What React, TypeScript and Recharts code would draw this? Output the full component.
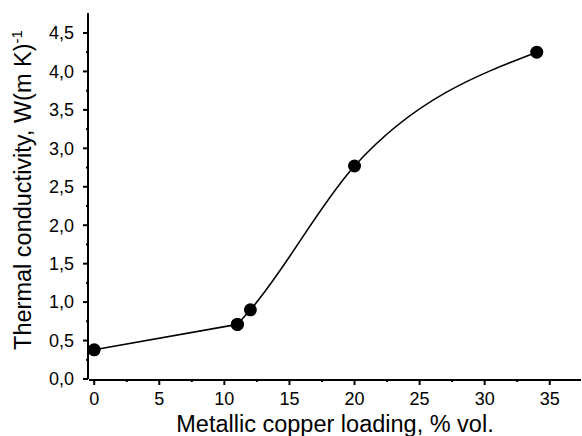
import { Label, Line, LineChart, XAxis, YAxis } from "recharts"

// copper loading (% vol.) vs thermal conductivity W/(m K)
const loading = [0, 11, 12, 20, 34]
const conductivity = [0.38, 0.71, 0.9, 2.77, 4.25]

const xTicks = [0, 5, 10, 15, 20, 25, 30, 35]
const xMinorTicks = [2.5, 7.5, 12.5, 17.5, 22.5, 27.5, 32.5]
const yTicks = [0, 0.5, 1, 1.5, 2, 2.5, 3, 3.5, 4, 4.5]
const yMinorTicks = [0.25, 0.75, 1.25, 1.75, 2.25, 2.75, 3.25, 3.75, 4.25]

// the first stretch in the original is a straight segment, the rest a smooth curve
const data = loading.map((x, i) => ({
    x,
    lo: i <= 1 ? conductivity[i] : undefined,
    hi: i >= 1 ? conductivity[i] : undefined,
}))

const FONT = "'Liberation Sans', Arial, sans-serif"
const INK = "#000"
const X_DOMAIN: [number, number] = [-0.4, 37.4]
const Y_DOMAIN: [number, number] = [0, 4.76]

const fmtComma = (v: number) => v.toFixed(1).replace(".", ",")

function YTitle(props: any) {
    const vb = props.viewBox ?? { x: 0, y: 13, width: 88, height: 366 }
    const cx = vb.x + 31
    const cy = vb.y + vb.height / 2 - 6
    return (
        <text
            x={cx}
            y={cy}
            transform={`rotate(-90, ${cx}, ${cy})`}
            textAnchor="middle"
            fontFamily={FONT}
            fontSize={23.5}
            fill={INK}
        >
            Thermal conductivity, W(m K)
            <tspan dy={-9} fontSize={15}>-1</tspan>
        </text>
    )
}

export default function App() {
    const dot = { r: 6.5, fill: INK, stroke: INK, strokeWidth: 0 }
    return (
        <div style={{ position: "absolute", left: 0, top: 0, width: 582, height: 436, background: "#fff" }}>
            <LineChart width={582} height={436} data={data} margin={{ top: 13, right: 1, left: 0, bottom: 0 }}>
                {/* minor ticks use the default axis id (0) so they sit right on the plot edge */}
                <XAxis
                    type="number"
                    dataKey="x"
                    domain={X_DOMAIN}
                    ticks={xMinorTicks}
                    height={1}
                    axisLine={false}
                    tickSize={3}
                    tickLine={{ stroke: INK, strokeWidth: 2 }}
                    tickFormatter={() => ""}
                    allowDataOverflow
                />
                <YAxis
                    type="number"
                    domain={Y_DOMAIN}
                    ticks={yMinorTicks}
                    width={1}
                    axisLine={false}
                    tickSize={3}
                    tickLine={{ stroke: INK, strokeWidth: 2 }}
                    tickFormatter={() => ""}
                    allowDataOverflow
                />
                <XAxis
                    xAxisId="major"
                    type="number"
                    dataKey="x"
                    domain={X_DOMAIN}
                    ticks={xTicks}
                    height={56}
                    allowDataOverflow
                    axisLine={{ stroke: INK, strokeWidth: 2 }}
                    tickLine={{ stroke: INK, strokeWidth: 2 }}
                    tickSize={5}
                    tickMargin={7}
                    tick={{ fill: INK, fontSize: 18, fontFamily: FONT }}
                >
                    <Label
                        value="Metallic copper loading, % vol."
                        position="insideBottom"
                        offset={4}
                        style={{ fill: INK, fontSize: 23.5, fontFamily: FONT }}
                    />
                </XAxis>
                <YAxis
                    yAxisId="major"
                    type="number"
                    domain={Y_DOMAIN}
                    ticks={yTicks}
                    width={88}
                    allowDataOverflow
                    axisLine={{ stroke: INK, strokeWidth: 2 }}
                    tickLine={{ stroke: INK, strokeWidth: 2 }}
                    tickSize={5}
                    tickMargin={9}
                    tickFormatter={fmtComma}
                    tick={{ fill: INK, fontSize: 18, fontFamily: FONT }}
                >
                    <Label content={<YTitle />} />
                </YAxis>
                <Line
                    xAxisId="major"
                    yAxisId="major"
                    type="linear"
                    dataKey="lo"
                    stroke={INK}
                    strokeWidth={1.6}
                    dot={dot}
                    activeDot={false}
                    isAnimationActive={false}
                />
                <Line
                    xAxisId="major"
                    yAxisId="major"
                    type="monotone"
                    dataKey="hi"
                    stroke={INK}
                    strokeWidth={1.6}
                    dot={dot}
                    activeDot={false}
                    isAnimationActive={false}
                />
            </LineChart>
        </div>
    )
}
